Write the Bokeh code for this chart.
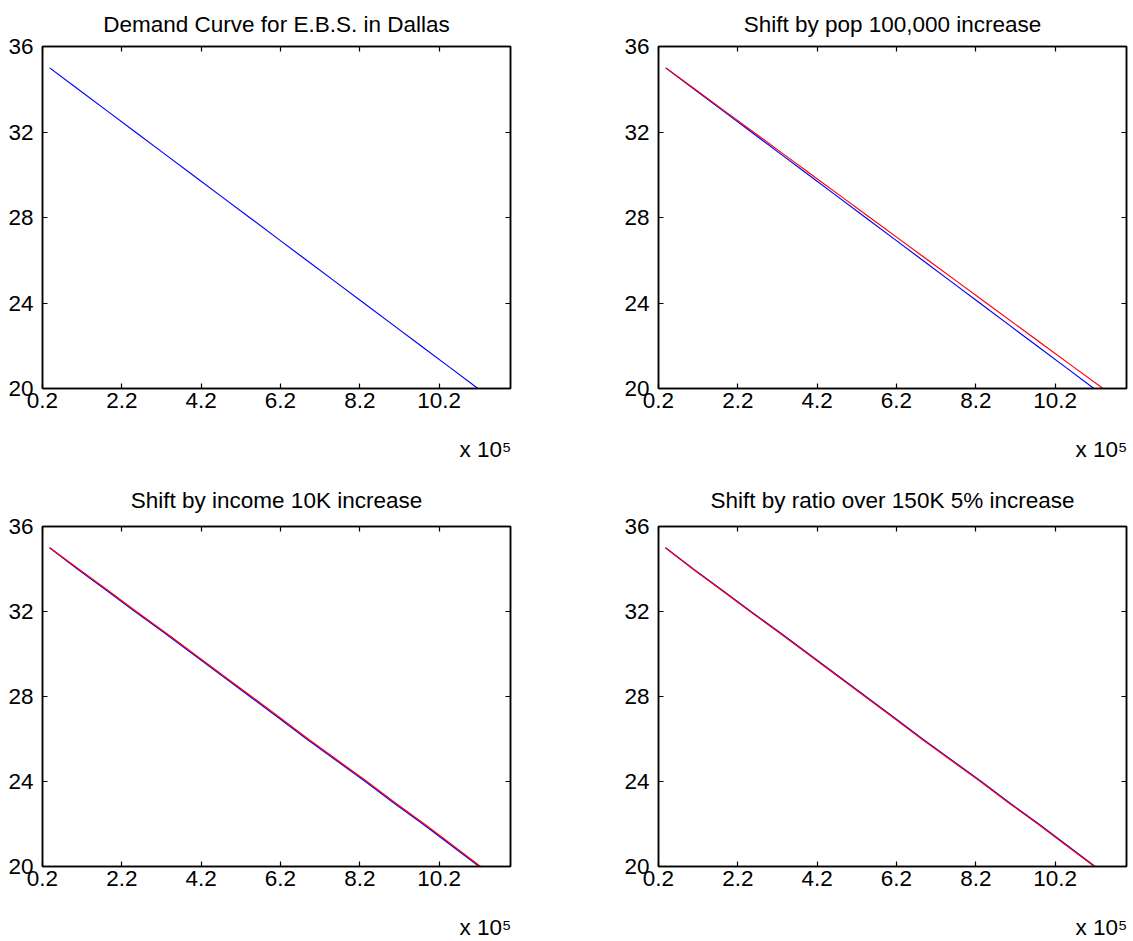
from bokeh.plotting import figure
from bokeh.models import Range1d, FixedTicker, LinearAxis
from bokeh.layouts import column, row
from bokeh.embed import file_html
from bokeh.resources import INLINE

# Price points of the demand schedule (dollars)
price = [35, 34, 33, 32, 31, 30, 29, 28, 27, 26, 25, 24, 23, 22, 21, 20]

# Quantity demanded at each price
qty_base = [38000, 110000, 182000, 254000, 326000, 398000, 470000, 542000,
            614000, 686000, 758000, 830000, 902000, 974000, 1046000, 1118000]
qty_pop = [38800, 112200, 185600, 259100, 332500, 406000, 479400, 552800,
           626300, 699700, 773200, 846600, 920000, 993500, 1066900, 1141000]
qty_inc_base = [37700, 108000, 181000, 253000, 327000, 399000, 471000, 543000,
                615000, 686000, 760000, 834000, 905000, 979000, 1050000, 1121000]
qty_inc_new = [38200, 111000, 184500, 256500, 330500, 402500, 474500, 547000,
               619000, 690000, 764000, 838000, 909000, 983000, 1054000, 1124500]
qty_ratio_base = [37700, 108000, 181000, 253000, 327000, 399000, 471000, 543000,
                  615000, 686000, 760000, 834000, 905000, 979000, 1050000, 1121000]
qty_ratio_new = [37500, 106500, 179000, 251000, 324500, 396500, 468500, 540500,
                 612500, 683500, 757500, 831500, 902500, 976500, 1047500, 1119000]

x_ticks = [20000, 220000, 420000, 620000, 820000, 1020000]
x_tick_labels = ["0.2", "2.2", "4.2", "6.2", "8.2", "10.2"]
y_ticks = [20, 24, 28, 32, 36]
y_tick_labels = ["20", "24", "28", "32", "36"]
x_limits = (20000, 1200000)
y_limits = (20, 36)
x_multiplier = "x 10\u2075"

titles = [
    "Demand Curve for E.B.S. in Dallas",
    "Shift by pop 100,000 increase",
    "Shift by income 10K increase",
    "Shift by ratio over 150K 5% increase",
]

FONT = "Liberation Sans"
FSIZE = "22.5px"
BLUE = "#0000ff"
RED = "#ff0000"


def style_axis(ax, ticks, labels, show_labels):
    ax.ticker = FixedTicker(ticks=ticks)
    ax.major_tick_in = 5
    ax.major_tick_out = 0
    ax.minor_tick_in = 0
    ax.minor_tick_out = 0
    ax.axis_line_width = 1.5
    ax.axis_line_color = "black"
    ax.major_tick_line_color = "black"
    ax.major_tick_line_width = 1.2
    ax.major_label_text_font = FONT
    ax.major_label_text_color = "black"
    if show_labels:
        ax.major_label_overrides = {t: s for t, s in zip(ticks, labels)}
        ax.major_label_text_font_size = FSIZE
    else:
        # tick marks only on the opposite sides of the box
        ax.major_label_overrides = {t: "" for t in ticks}
        ax.major_label_text_font_size = "0px"
        ax.major_label_standoff = 0


def panel(title, series, fh, bl, br, bt, bb, title_gap):
    p = figure(frame_width=468, frame_height=fh, output_backend="svg",
               toolbar_location=None, tools="",
               x_range=Range1d(*x_limits), y_range=Range1d(*y_limits),
               min_border_left=bl, min_border_right=br,
               min_border_top=bt, min_border_bottom=bb)
    p.xgrid.visible = False
    p.ygrid.visible = False
    p.outline_line_color = "black"
    p.outline_line_width = 1.5
    p.background_fill_color = "white"
    p.border_fill_color = "white"

    xax = p.xaxis[0]
    style_axis(xax, x_ticks, x_tick_labels, True)
    xax.major_label_standoff = 4
    style_axis(p.yaxis[0], y_ticks, y_tick_labels, True)
    p.yaxis[0].major_label_standoff = 9

    top = LinearAxis()
    style_axis(top, x_ticks, x_tick_labels, False)
    p.add_layout(top, "above")
    right = LinearAxis()
    style_axis(right, y_ticks, y_tick_labels, False)
    p.add_layout(right, "right")

    p.title.text = title
    p.title.align = "center"
    p.title.text_font = FONT
    p.title.text_font_size = FSIZE
    p.title.text_font_style = "normal"
    p.title.text_color = "black"
    p.title.standoff = title_gap

    for qty, color in series:
        p.line(qty, price, line_color=color, line_width=1.2)

    # axis multiplier under the lower right corner; the label is centred on
    # the axis end, so trailing no-break spaces pull the visible text inside
    xax.axis_label = x_multiplier + "\u00a0" * 8
    xax.axis_label_align = "end"
    xax.axis_label_standoff = 26
    xax.axis_label_text_font = FONT
    xax.axis_label_text_font_size = FSIZE
    xax.axis_label_text_font_style = "normal"
    xax.axis_label_text_color = "black"
    return p


p1 = panel(titles[0], [(qty_base, BLUE)], 342, 42, 74, 44, 76, 19)
p2 = panel(titles[1], [(qty_base, BLUE), (qty_pop, RED)], 342, 74, 7, 44, 76, 19)
p3 = panel(titles[2], [(qty_inc_base, BLUE), (qty_inc_new, RED)], 340, 42, 74, 62, 77, 27)
p4 = panel(titles[3], [(qty_ratio_base, BLUE), (qty_ratio_new, RED)], 340, 74, 7, 62, 77, 27)

layout = column(row(p1, p2), row(p3, p4))

with open("out.html", "w") as f:
    f.write(file_html(layout, INLINE))
